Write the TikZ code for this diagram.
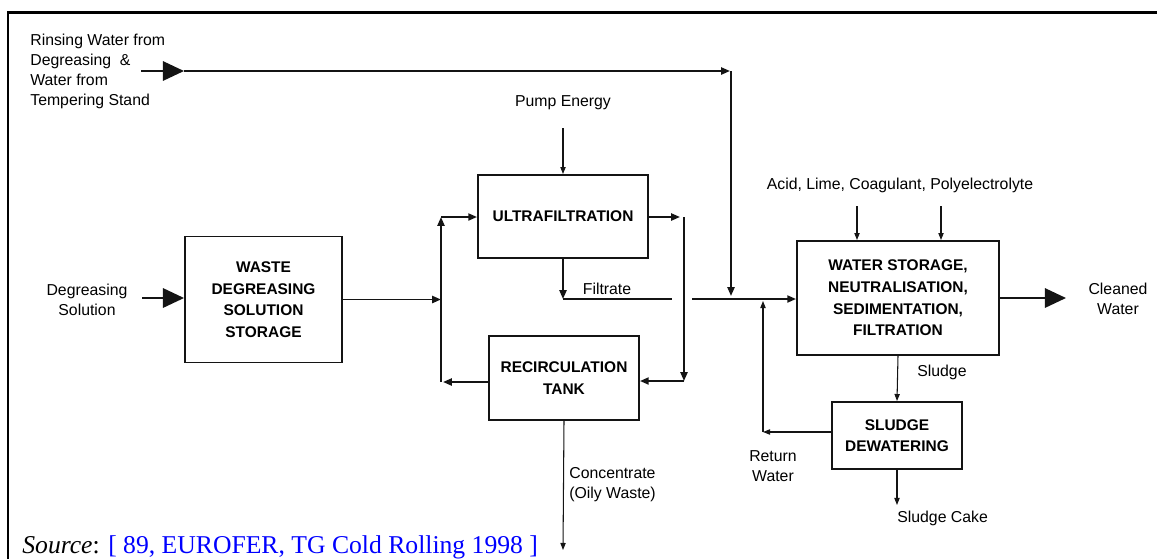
\documentclass[tikz,border=0pt]{standalone}
\usepackage{fontspec}
\setmainfont{Liberation Sans}
\newfontfamily\srcfont{Liberation Serif}
\usepackage{tikz}
\usetikzlibrary{arrows.meta, positioning, calc}
\definecolor{SrcBlue}{RGB}{0, 0, 255}
\definecolor{FlowBlack}{RGB}{20, 20, 20}

\begin{document}
\begin{tikzpicture}[x=0.02cm, y=-0.02cm,
    unit/.style={draw=FlowBlack, line width=1.1pt, inner sep=0pt, align=center,
        font=\bfseries\fontsize{8.8}{12.3}\selectfont},
    lbl/.style={inner sep=0pt, align=center, font=\fontsize{9}{11.3}\selectfont},
    flow/.style={draw=FlowBlack, line width=1.1pt, -{Triangle[length=5pt, width=4pt]}},
    thinflow/.style={draw=FlowBlack, line width=0.6pt, -{Triangle[length=4pt, width=3pt]}},
    bigflow/.style={draw=FlowBlack, line width=1.2pt, -{Triangle[length=12pt, width=11pt]}}]
        \useasboundingbox (0,0) rectangle (1157,559);
        % Frame
        \draw[line width=1.7pt] (8,559) -- (8,12) -- (1157,12);

        % Units
        \node[unit, minimum width=3.14cm, minimum height=2.52cm] (waste) at (263.5,299.5)
            {WASTE\\DEGREASING\\SOLUTION\\STORAGE};
        \node[unit, minimum width=3.4cm, minimum height=1.66cm] (uf) at (563,216.5) {ULTRAFILTRATION};
        \node[unit, minimum width=3.0cm, minimum height=1.68cm] (rec) at (564,378) {RECIRCULATION\\TANK};
        \node[unit, minimum width=4.04cm, minimum height=2.28cm] (ws) at (898,298)
            {WATER STORAGE,\\NEUTRALISATION,\\SEDIMENTATION,\\FILTRATION};
        \node[unit, minimum width=2.6cm, minimum height=1.34cm] (sd) at (897,435.5) {SLUDGE\\DEWATERING};

        % Inputs and outputs
        \node[lbl, align=left, anchor=west] (rin) at (30,71.5)
            {Rinsing Water from\\Degreasing~~\&\\Water from\\Tempering Stand};
        \node[lbl] (deg) at (87,300) {Degreasing\\Solution};
        \node[lbl] (pump) at (563,103) {Pump Energy};
        \node[lbl] (acid) at (900,185) {Acid, Lime, Coagulant, Polyelectrolyte};
        \node[lbl] (clean) at (1118,299) {Cleaned\\Water};
        \node[lbl] (filt) at (607,289) {Filtrate};
        \node[lbl, align=left, anchor=west] (conc) at (569,485) {Concentrate\\(Oily Waste)};
        \node[lbl, anchor=west] (sl) at (917,372) {Sludge};
        \node[lbl] (ret) at (773,466) {Return\\Water};
        \node[lbl, anchor=west] (cake) at (897,518) {Sludge Cake};

        % Junctions
        \coordinate (rinA) at (141,71);
        \coordinate (rinB) at (184,71);
        \coordinate (rinC) at (730,71);
        \coordinate (rinD) at (731,71);
        \coordinate (degA) at (142,298);
        \coordinate (lpT) at (441,217);
        \coordinate (lpB) at (441,382);
        \coordinate (ufOut) at (680,217);
        \coordinate (rcT) at (684,217);
        \coordinate (rcB) at (684,381);
        \coordinate (fA) at (563,299);
        \coordinate (fB) at (672,299);
        \coordinate (fC) at (692,299);
        \coordinate (pmp) at (563,128);
        \coordinate (acA) at (857,206);
        \coordinate (acB) at (941,206);
        \coordinate (cwEnd) at (1066,298);
        \coordinate (retC) at (763,432);
        \coordinate (cEnd) at (563,550);
        \coordinate (skEnd) at (897,505);

        % Rinsing water line
        \draw[bigflow] (rinA) -- (rinB);
        \draw[flow] (rinB) -- (rinC);
        \draw[flow] (rinD) -- (rinD |- 0,296);

        % Degreasing feed
        \draw[bigflow] (degA) -- (waste.west |- degA);
        \draw[flow] (waste.east) -- (lpB |- waste.east);

        % Ultrafiltration loop
        \draw[flow] (lpB) -- (lpT);
        \draw[flow] (lpT) -- (uf.west |- lpT);
        \draw[flow] (uf.east |- ufOut) -- (ufOut);
        \draw[flow] (rcT) -- (rcB);
        \draw[flow] (rcB) -- (rec.east |- rcB);
        \draw[flow] (rec.west |- lpB) -- ($(lpB)+(2,0)$);
        \draw[thinflow] (pmp) -- (uf.north);
        \draw[thinflow] (rec.south) -- (cEnd);

        % Filtrate to water treatment
        \draw[flow] (uf.south) -- (fA);
        \draw[line width=1.1pt, FlowBlack] (fA) -- (fB);
        \draw[flow] (fC) -- (ws.west |- fC);

        % Water treatment
        \draw[thinflow] (acA) -- (acA |- ws.north);
        \draw[thinflow] (acB) -- (acB |- ws.north);
        \draw[bigflow] (ws.east) -- (cwEnd);
        \draw[thinflow] (ws.south) -- (sd.north);
        \draw[thinflow] (sd.west |- retC) -- (retC);
        \draw[thinflow] (retC) -- (retC |- 0,301);
        \draw[thinflow] (sd.south) -- (skEnd);

        % Source
        \node[anchor=base west, inner sep=0pt, font=\srcfont\fontsize{14.6}{17}\selectfont] (src) at (22,553)
            {\textit{Source}: \textcolor{SrcBlue}{[ 89, EUROFER, TG Cold Rolling 1998 ]}};
    \end{tikzpicture}
\end{document}
